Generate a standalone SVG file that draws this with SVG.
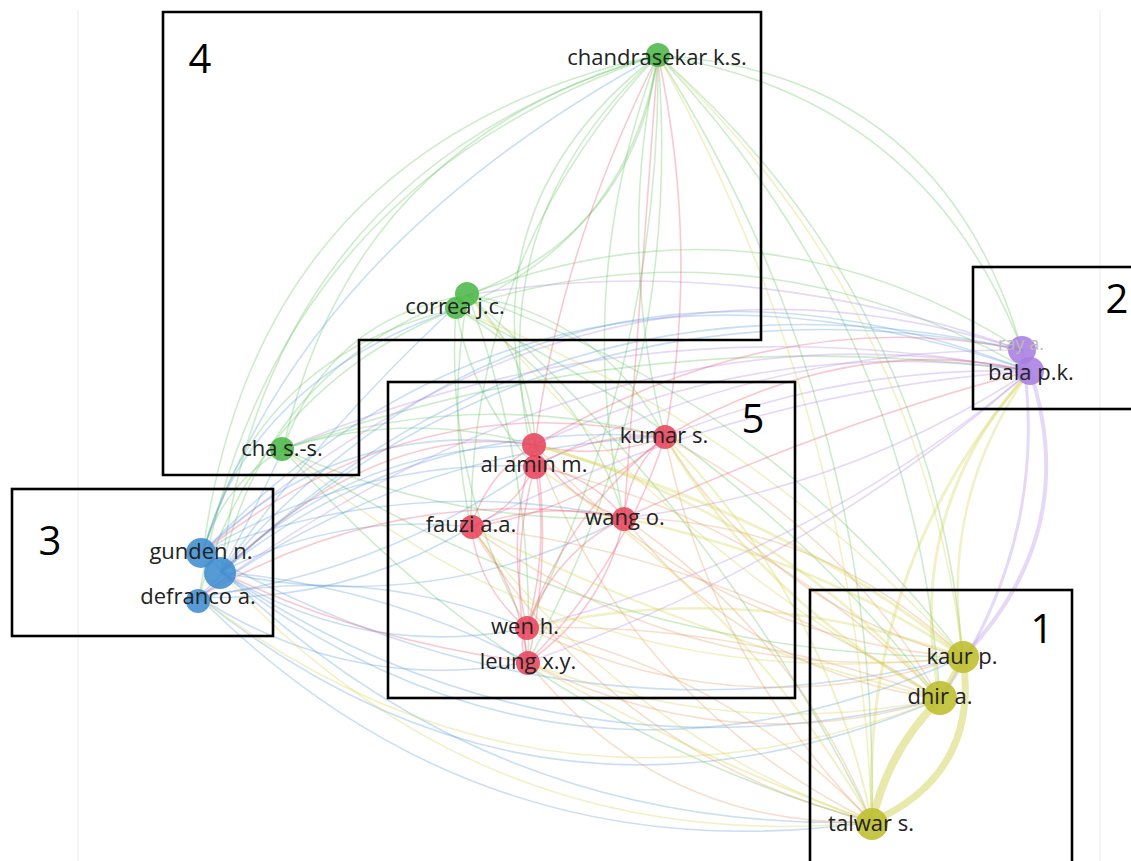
<svg xmlns="http://www.w3.org/2000/svg" width="1131" height="861" viewBox="0 0 1131 861">
<style>
.e path{fill:none;stroke-width:1.6;stroke-opacity:0.3;stroke-linecap:round}
.eg path{stroke:#5cbf55}
.eb path{stroke:#4f94d6}
.ep path{stroke:#ab82e6}
.er path{stroke:#e84d66}
.eo path{stroke:#e6955a}
.ey path{stroke:#cfcf45}
.lbl{font-family:"Open Sans","DejaVu Sans",sans-serif;font-size:22px;fill:#222;text-anchor:middle}
.num{font-family:"Open Sans","DejaVu Sans",sans-serif;font-size:40px;fill:#000;text-anchor:middle}
.box{fill:none;stroke:#000;stroke-width:2.6}
.ng{fill:#4cb848;fill-opacity:.88}
.nr{fill:#e8455d;fill-opacity:.88}
.nb{fill:#3f8cd0;fill-opacity:.88}
.np{fill:#a97ee0;fill-opacity:.88}
.ny{fill:#bfbf32;fill-opacity:.9}
</style>
<rect width="1131" height="861" fill="#fff"/>
<line x1="78" y1="10" x2="78" y2="861" stroke="#ececec" stroke-width="1"/>
<line x1="1100" y1="10" x2="1100" y2="861" stroke="#ececec" stroke-width="1"/>
<g id="connectors">
<g class="e eg">
<path d="M658,55 Q635,232 468,295"/>
<path d="M658,55 Q628,239 456,309"/>
<path d="M658,55 Q460,207 535,445"/>
<path d="M658,55 Q473,224 535,466"/>
<path d="M658,55 Q616,247 665,437"/>
<path d="M658,55 Q572,281 624,518"/>
<path d="M658,55 Q470,254 471,527"/>
<path d="M658,55 Q661,357 527,628"/>
<path d="M658,55 Q684,378 528,662"/>
<path d="M658,55 Q257,144 203,552"/>
<path d="M658,55 Q269,169 221,572"/>
<path d="M658,55 Q266,188 199,597"/>
<path d="M658,55 Q942,73 1022,350"/>
<path d="M658,55 Q937,100 1030,371"/>
<path d="M658,55 Q931,295 963,657"/>
<path d="M658,55 Q915,326 940,699"/>
<path d="M658,55 Q880,406 872,822"/>
<path d="M658,55 Q352,140 283,449"/>
<path d="M468,295 Q329,317 283,449"/>
<path d="M456,309 Q257,355 203,552"/>
<path d="M468,295 Q267,364 221,572"/>
<path d="M456,309 Q256,389 199,597"/>
<path d="M468,295 Q532,357 535,445"/>
<path d="M456,309 Q472,399 535,466"/>
<path d="M468,295 Q602,317 665,437"/>
<path d="M456,309 Q582,380 624,518"/>
<path d="M468,295 Q446,411 471,527"/>
<path d="M456,309 Q444,479 527,628"/>
<path d="M468,295 Q535,472 528,662"/>
<path d="M468,295 Q758,182 1022,350"/>
<path d="M456,309 Q755,212 1030,371"/>
<path d="M468,295 Q770,402 963,657"/>
<path d="M456,309 Q745,446 940,699"/>
<path d="M468,295 Q723,518 872,822"/>
<path d="M283,449 Q222,485 203,552"/>
<path d="M283,449 Q408,409 535,445"/>
<path d="M283,449 Q472,386 665,437"/>
<path d="M283,449 Q445,524 624,518"/>
<path d="M283,449 Q592,655 963,657"/>
<path d="M283,449 Q646,319 1030,371"/>
<path d="M283,449 Q522,724 872,822"/>
</g>
<g class="e eb">
<path d="M221,572 Q353,446 535,445"/>
<path d="M203,552 Q356,459 535,466"/>
<path d="M199,597 Q383,572 535,466"/>
<path d="M221,572 Q416,416 665,437"/>
<path d="M199,597 Q408,447 665,437"/>
<path d="M221,572 Q339,512 471,527"/>
<path d="M199,597 Q345,603 471,527"/>
<path d="M221,572 Q432,618 624,518"/>
<path d="M203,552 Q408,472 624,518"/>
<path d="M221,572 Q363,661 527,628"/>
<path d="M199,597 Q350,695 528,662"/>
<path d="M221,572 Q384,586 528,662"/>
<path d="M221,572 Q554,187 1030,371"/>
<path d="M203,552 Q540,200 1030,371"/>
<path d="M199,597 Q540,241 1022,350"/>
<path d="M221,572 Q565,259 1022,350"/>
<path d="M221,572 Q566,837 963,657"/>
<path d="M199,597 Q539,870 940,699"/>
<path d="M203,552 Q478,834 872,822"/>
<path d="M199,597 Q479,878 872,822"/>
<path d="M221,572 Q553,794 940,699"/>
<path d="M203,552 Q562,757 963,657"/>
<path d="M199,597 Q368,563 527,628"/>
<path d="M203,552 Q342,416 535,445"/>
<path d="M221,572 Q330,420 468,295"/>
<path d="M203,552 Q250,380 456,309"/>
<path d="M203,552 Q300,250 658,55"/>
<path d="M221,572 Q260,500 283,449"/>
</g>
<g class="e ep">
<path d="M1030,371 Q770,333 535,445"/>
<path d="M1022,350 Q764,348 535,466"/>
<path d="M1030,371 Q840,366 665,437"/>
<path d="M1030,371 Q845,492 624,518"/>
<path d="M1030,371 Q734,392 471,527"/>
<path d="M1030,371 Q809,558 527,628"/>
<path d="M1030,371 Q808,565 528,662"/>
<path d="M1030,371 Q644,297 283,449"/>
<path d="M1022,350 Q590,210 203,552"/>
<path d="M1030,371 Q620,290 199,597"/>
<path d="M1022,350 Q740,250 468,295"/>
<path d="M1030,371 Q1083,532 963,657" style="stroke-width:4"/>
<path d="M1022,350 Q1052,539 940,699" style="stroke-width:3"/>
</g>
<g class="e er">
<path d="M535,445 Q601,461 665,437"/>
<path d="M535,466 Q596,432 665,437"/>
<path d="M535,445 Q487,473 471,527"/>
<path d="M535,466 Q515,509 471,527"/>
<path d="M535,445 Q565,499 624,518"/>
<path d="M535,466 Q590,474 624,518"/>
<path d="M535,445 Q504,535 527,628"/>
<path d="M535,466 Q550,548 527,628"/>
<path d="M535,445 Q553,554 528,662"/>
<path d="M535,466 Q508,563 528,662"/>
<path d="M665,437 Q628,469 624,518"/>
<path d="M665,437 Q581,511 471,527"/>
<path d="M665,437 Q567,512 527,628"/>
<path d="M665,437 Q623,566 528,662"/>
<path d="M471,527 Q546,500 624,518"/>
<path d="M471,527 Q479,589 527,628"/>
<path d="M471,527 Q520,586 528,662"/>
<path d="M624,518 Q553,554 527,628"/>
<path d="M624,518 Q605,609 528,662"/>
<path d="M527,628 Q517,645 528,662"/>
<path d="M535,445 Q380,420 221,572"/>
<path d="M665,437 Q420,380 203,552"/>
<path d="M624,518 Q400,480 199,597"/>
<path d="M528,662 Q360,640 221,572"/>
<path d="M665,437 Q850,330 1030,371"/>
<path d="M535,445 Q780,300 1022,350"/>
<path d="M624,518 Q840,420 1030,371"/>
<path d="M535,445 Q560,250 658,55"/>
<path d="M665,437 Q700,250 658,55"/>
<path d="M624,518 Q640,300 658,55"/>
</g>
<g class="e eo">
<path d="M665,437 Q770,607 963,657"/>
<path d="M665,437 Q842,527 940,699"/>
<path d="M665,437 Q711,661 872,822"/>
<path d="M535,445 Q707,637 963,657"/>
<path d="M535,466 Q772,522 940,699"/>
<path d="M535,445 Q628,701 872,822"/>
<path d="M624,518 Q821,520 963,657"/>
<path d="M624,518 Q746,672 940,699"/>
<path d="M624,518 Q794,633 872,822"/>
<path d="M471,527 Q691,690 963,657"/>
<path d="M471,527 Q726,557 940,699"/>
<path d="M471,527 Q612,755 872,822"/>
<path d="M527,628 Q739,730 963,657"/>
<path d="M527,628 Q741,622 940,699"/>
<path d="M528,662 Q660,828 872,822"/>
<path d="M528,662 Q727,763 940,699"/>
<path d="M527,628 Q729,673 872,822"/>
</g>
<g class="e ey">
<path d="M872,822 Q484,860 221,572"/>
<path d="M940,699 Q541,855 199,597"/>
<path d="M963,657 Q577,703 283,449"/>
<path d="M963,657 Q751,422 456,309"/>
<path d="M940,699 Q664,544 468,295"/>
<path d="M872,822 Q857,413 658,55"/>
<path d="M963,657 Q919,301 658,55"/>
<path d="M940,699 Q776,511 535,445" style="stroke-width:2.5"/>
<path d="M872,822 Q826,598 665,437" style="stroke-width:2"/>
<path d="M872,822 Q746,604 535,466" style="stroke-width:2"/>
<path d="M872,822 Q627,735 471,527"/>
<path d="M963,657 Q749,577 527,628" style="stroke-width:2.5"/>
<path d="M940,699 Q728,742 528,662"/>
<path d="M963,657 Q800,520 535,445" style="stroke-width:3"/>
<path d="M940,699 Q760,600 665,437" style="stroke-width:2.5"/>
<path d="M963,657 Q820,560 624,518" style="stroke-width:2.5"/>
<path d="M940,699 Q700,640 471,527" style="stroke-width:2"/>
<path d="M872,822 Q700,760 528,662" style="stroke-width:2"/>
<path d="M1030,371 Q860,564 872,822" style="stroke-width:3"/>
<path d="M1030,371 Q902,511 940,699" style="stroke-width:3"/>
<path d="M1030,371 Q938,499 963,657" style="stroke-width:2.5"/>
<path d="M963,657 Q980,774 872,822" style="stroke-width:7;stroke-opacity:.45"/>
<path d="M940,699 Q888,750 872,822" style="stroke-width:8;stroke-opacity:.45"/>
<path d="M963,657 L940,699" style="stroke-width:5;stroke-opacity:.45"/>
</g>
</g>
<g id="node-chandrasekar"><circle class="ng" cx="658" cy="55" r="12"/><text class="lbl" x="657" y="65">chandrasekar k.s.</text></g>
<g id="node-correa"><circle class="ng" cx="467" cy="294" r="12"/><circle class="ng" cx="456" cy="308" r="11"/><text class="lbl" x="455" y="314">correa j.c.</text></g>
<g id="node-cha"><circle class="ng" cx="282" cy="449" r="12"/><text class="lbl" x="282" y="456">cha s.-s.</text></g>
<g id="node-alamin"><circle class="nr" cx="534" cy="445" r="12"/><circle class="nr" cx="535" cy="467" r="12"/><text class="lbl" x="534" y="472">al amin m.</text></g>
<g id="node-kumar"><circle class="nr" cx="665" cy="437" r="12"/><text class="lbl" x="664" y="443">kumar s.</text></g>
<g id="node-fauzi"><circle class="nr" cx="472" cy="527" r="12"/><text class="lbl" x="471" y="532">fauzi a.a.</text></g>
<g id="node-wang"><circle class="nr" cx="624" cy="519" r="12"/><text class="lbl" x="625" y="525">wang o.</text></g>
<g id="node-wen"><circle class="nr" cx="527" cy="628" r="12"/><text class="lbl" x="525" y="634">wen h.</text></g>
<g id="node-leung"><circle class="nr" cx="528" cy="663" r="12"/><text class="lbl" x="528" y="669">leung x.y.</text></g>
<g id="node-gunden"><circle class="nb" cx="201" cy="553" r="15"/><circle class="nb" cx="220" cy="573" r="16"/><text class="lbl" x="201" y="559">gunden n.</text></g>
<g id="node-defranco"><circle class="nb" cx="198" cy="601" r="12"/><text class="lbl" x="198" y="604">defranco a.</text></g>
<g id="node-ray"><circle class="np" cx="1022" cy="350" r="14"/><text class="lbl" x="1021" y="350" style="fill:#bbb;font-size:18px">ray a.</text></g>
<g id="node-bala"><circle class="np" cx="1030" cy="371" r="14"/><text class="lbl" x="1031" y="380">bala p.k.</text></g>
<g id="node-kaur"><circle class="ny" cx="963" cy="657" r="16"/><text class="lbl" x="962" y="664">kaur p.</text></g>
<g id="node-dhir"><circle class="ny" cx="940" cy="698" r="17"/><text class="lbl" x="940" y="704">dhir a.</text></g>
<g id="node-talwar"><circle class="ny" cx="872" cy="824" r="16"/><text class="lbl" x="871" y="831">talwar s.</text></g>
<g id="boxes">
<rect class="box" x="810" y="590" width="262" height="280"/>
<rect class="box" x="973" y="267" width="165" height="142"/>
<rect class="box" x="12" y="489" width="261" height="147"/>
<polygon class="box" points="163,12 761,12 761,340 359,340 359,475 163,475"/>
<rect class="box" x="388" y="382" width="407" height="316"/>
<text class="num" x="1042" y="643">1</text>
<text class="num" x="1117" y="313">2</text>
<text class="num" x="50" y="555">3</text>
<text class="num" x="200" y="73">4</text>
<text class="num" x="753" y="433">5</text>
</g>
</svg>
